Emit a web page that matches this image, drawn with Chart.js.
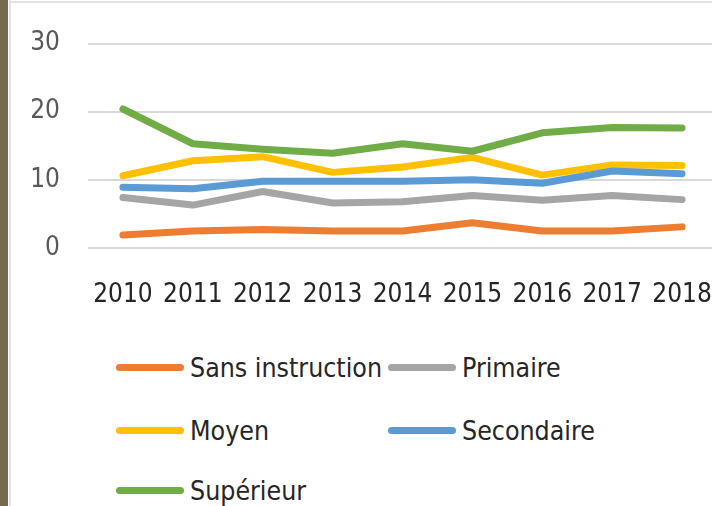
<!DOCTYPE html>
<html>
<head>
<meta charset="utf-8">
<script src="https://cdn.jsdelivr.net/npm/chart.js@4"></script>
<style>
  body { margin: 0; background: #fff; overflow: hidden; }
  #frame { position: relative; width: 712px; height: 506px; overflow: hidden; background: #fff; }
  #edge { position: absolute; left: 0; top: 0; width: 8px; height: 506px; background: #746a4f; }
  #vline { position: absolute; left: 9px; top: 0; width: 2px; height: 506px; background: #e3e3e3; }
  #hline { position: absolute; left: 9px; top: 1px; width: 703px; height: 2px; background: #e3e3e3; }
  #wrap { position: absolute; left: 0; top: 0; width: 717px; height: 330px; }
  #legend { position: absolute; left: 116px; top: 0; font-family: 'DejaVu Sans', sans-serif; font-stretch: condensed; font-size: 26.5px; color: #262626; }
  .item { position: absolute; white-space: nowrap; display: flex; align-items: center; }
  .item i { display: inline-block; width: 68px; height: 7px; border-radius: 4px; margin-right: 6px; }
</style>
</head>
<body>
<div id="frame">
  <div id="edge"></div>
  <div id="vline"></div>
  <div id="hline"></div>
  <div id="wrap"><canvas id="chart"></canvas></div>
  <div id="legend"></div>
</div>
<script>
const years = ["2010", "2011", "2012", "2013", "2014", "2015", "2016", "2017", "2018"];
const sansInstruction = [1.9, 2.5, 2.7, 2.5, 2.5, 3.7, 2.5, 2.5, 3.1];
const primaire = [7.4, 6.3, 8.3, 6.6, 6.8, 7.7, 7.0, 7.7, 7.1];
const moyen = [10.6, 12.8, 13.4, 11.1, 11.9, 13.3, 10.7, 12.2, 12.1];
const secondaire = [8.9, 8.7, 9.8, 9.8, 9.8, 10.0, 9.5, 11.3, 10.9];
const superieur = [20.4, 15.3, 14.5, 13.9, 15.3, 14.2, 16.9, 17.7, 17.6];
const yTicks = [0, 10, 20, 30];

const seriesNames = ["Sans instruction", "Primaire", "Moyen", "Secondaire", "Supérieur"];
const seriesData = [sansInstruction, primaire, moyen, secondaire, superieur];
const seriesColors = ["#ED7D31", "#A5A5A5", "#FFC000", "#5B9BD5", "#70AD47"];

// "condensed" goes into the canvas font shorthand as font-stretch
const tickFont = { family: "'DejaVu Sans', sans-serif", size: 26, weight: "condensed" };

const datasets = seriesNames.map((name, i) => ({
    label: name,
    data: seriesData[i],
    borderColor: seriesColors[i],
    backgroundColor: seriesColors[i],
    borderWidth: 7,
    borderCapStyle: "round",
    borderJoinStyle: "round",
    pointRadius: 0,
    tension: 0,
    order: seriesNames.length - i
}));

new Chart(document.getElementById("chart"), {
    type: "line",
    data: { labels: years, datasets: datasets },
    options: {
        responsive: true,
        maintainAspectRatio: false,
        animation: false,
        layout: { padding: { top: 42, left: 0, right: 0, bottom: 0 } },
        plugins: { legend: { display: false }, tooltip: { enabled: false } },
        scales: {
            x: {
                offset: true,
                grid: { display: false, drawTicks: false },
                border: { display: false },
                ticks: { color: "#262626", font: tickFont, padding: 32, maxRotation: 0, autoSkip: false },
                afterFit: s => { s.height = 82; s.paddingLeft = 0; s.paddingRight = 0; }
            },
            y: {
                min: 0,
                max: 30,
                afterBuildTicks: s => { s.ticks = yTicks.map(v => ({ value: v })); },
                grid: { color: "#d9d9d9", lineWidth: 2, drawTicks: false },
                border: { display: false },
                ticks: { color: "#595959", font: tickFont, padding: 28 },
                afterFit: s => { s.width = 88; }
            }
        }
    }
});

// legend laid out as a grid, like the original
const legendPos = [[0, 367], [272, 367], [0, 430], [272, 430], [0, 490]];
const legend = document.getElementById("legend");
seriesNames.forEach((name, i) => {
    const el = document.createElement("div");
    el.className = "item";
    el.style.left = legendPos[i][0] + "px";
    el.style.top = (legendPos[i][1] - 15) + "px";
    el.innerHTML = `<i style="background:${seriesColors[i]}"></i>${name}`;
    legend.appendChild(el);
});
</script>
</body>
</html>
